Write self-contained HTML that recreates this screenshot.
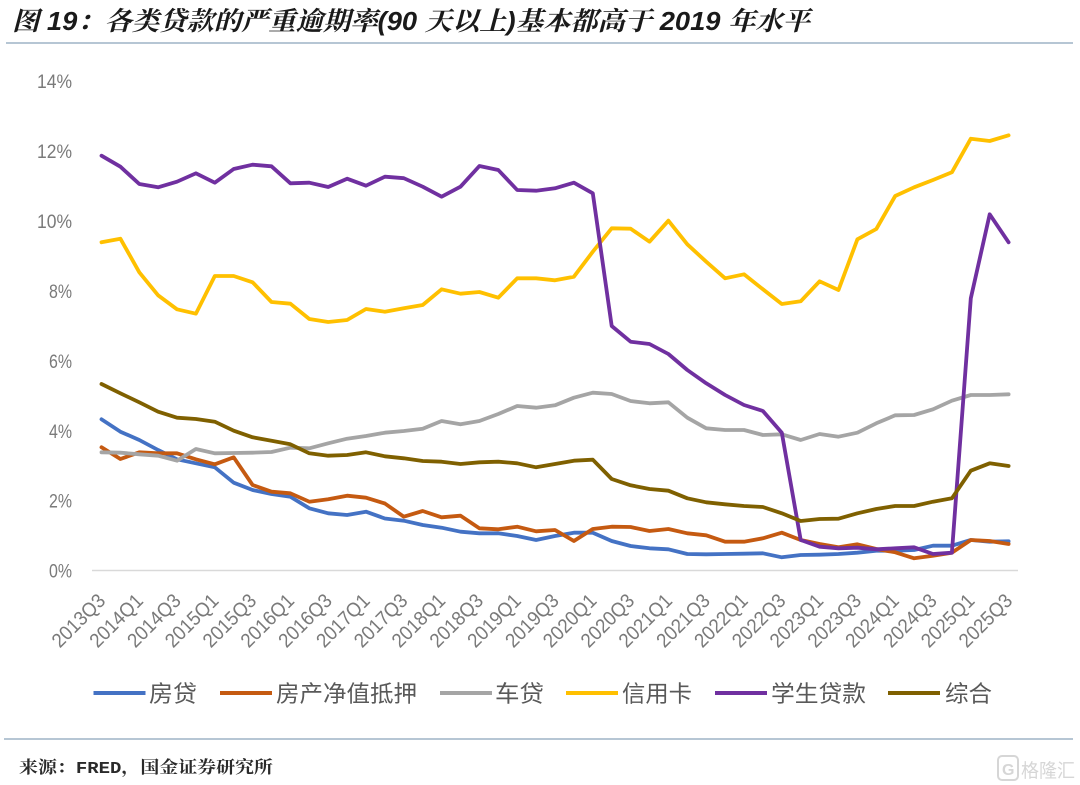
<!DOCTYPE html>
<html>
<head>
<meta charset="utf-8">
<style>
  html, body { margin:0; padding:0; background:#fff; }
  svg { display:block; }
</style>
</head>
<body>
<svg width="1080" height="785" viewBox="0 0 1080 785" xmlns="http://www.w3.org/2000/svg">
  <rect width="1080" height="785" fill="#ffffff"/>

  <!-- Title -->
  <text x="12" y="30" font-family="'Liberation Sans','Noto Serif CJK SC',serif" font-size="26" font-weight="bold" font-style="italic" fill="#1a1a1a" textLength="798" lengthAdjust="spacingAndGlyphs">图 19：各类贷款的严重逾期率(90 天以上)基本都高于 2019 年水平</text>
  <line x1="6" y1="43" x2="1073" y2="43" stroke="#9db4c6" stroke-width="1.5"/>

  <!-- Y axis labels -->
  <g font-family="'Liberation Sans',sans-serif" font-size="19" fill="#7a7a7a" text-anchor="end">
    <text x="72" y="88" textLength="35" lengthAdjust="spacingAndGlyphs">14%</text>
    <text x="72" y="158" textLength="35" lengthAdjust="spacingAndGlyphs">12%</text>
    <text x="72" y="228" textLength="35" lengthAdjust="spacingAndGlyphs">10%</text>
    <text x="72" y="298" textLength="23" lengthAdjust="spacingAndGlyphs">8%</text>
    <text x="72" y="368" textLength="23" lengthAdjust="spacingAndGlyphs">6%</text>
    <text x="72" y="438" textLength="23" lengthAdjust="spacingAndGlyphs">4%</text>
    <text x="72" y="507.5" textLength="23" lengthAdjust="spacingAndGlyphs">2%</text>
    <text x="72" y="577.5" textLength="23" lengthAdjust="spacingAndGlyphs">0%</text>
  </g>

  <!-- X axis line -->
  <line x1="92" y1="570.5" x2="1018" y2="570.5" stroke="#d9d9d9" stroke-width="1.5"/>

  <!-- X axis labels -->
  <g font-family="'Liberation Sans',sans-serif" font-size="20" fill="#7a7a7a" text-anchor="end">
    <text transform="translate(106.5,602) rotate(-45)" textLength="66" lengthAdjust="spacingAndGlyphs">2013Q3</text>
    <text transform="translate(144.3,602) rotate(-45)" textLength="66" lengthAdjust="spacingAndGlyphs">2014Q1</text>
    <text transform="translate(182.0,602) rotate(-45)" textLength="66" lengthAdjust="spacingAndGlyphs">2014Q3</text>
    <text transform="translate(219.8,602) rotate(-45)" textLength="66" lengthAdjust="spacingAndGlyphs">2015Q1</text>
    <text transform="translate(257.6,602) rotate(-45)" textLength="66" lengthAdjust="spacingAndGlyphs">2015Q3</text>
    <text transform="translate(295.4,602) rotate(-45)" textLength="66" lengthAdjust="spacingAndGlyphs">2016Q1</text>
    <text transform="translate(333.2,602) rotate(-45)" textLength="66" lengthAdjust="spacingAndGlyphs">2016Q3</text>
    <text transform="translate(371.0,602) rotate(-45)" textLength="66" lengthAdjust="spacingAndGlyphs">2017Q1</text>
    <text transform="translate(408.8,602) rotate(-45)" textLength="66" lengthAdjust="spacingAndGlyphs">2017Q3</text>
    <text transform="translate(446.6,602) rotate(-45)" textLength="66" lengthAdjust="spacingAndGlyphs">2018Q1</text>
    <text transform="translate(484.4,602) rotate(-45)" textLength="66" lengthAdjust="spacingAndGlyphs">2018Q3</text>
    <text transform="translate(522.2,602) rotate(-45)" textLength="66" lengthAdjust="spacingAndGlyphs">2019Q1</text>
    <text transform="translate(560.0,602) rotate(-45)" textLength="66" lengthAdjust="spacingAndGlyphs">2019Q3</text>
    <text transform="translate(597.8,602) rotate(-45)" textLength="66" lengthAdjust="spacingAndGlyphs">2020Q1</text>
    <text transform="translate(635.6,602) rotate(-45)" textLength="66" lengthAdjust="spacingAndGlyphs">2020Q3</text>
    <text transform="translate(673.4,602) rotate(-45)" textLength="66" lengthAdjust="spacingAndGlyphs">2021Q1</text>
    <text transform="translate(711.2,602) rotate(-45)" textLength="66" lengthAdjust="spacingAndGlyphs">2021Q3</text>
    <text transform="translate(749.0,602) rotate(-45)" textLength="66" lengthAdjust="spacingAndGlyphs">2022Q1</text>
    <text transform="translate(786.8,602) rotate(-45)" textLength="66" lengthAdjust="spacingAndGlyphs">2022Q3</text>
    <text transform="translate(824.6,602) rotate(-45)" textLength="66" lengthAdjust="spacingAndGlyphs">2023Q1</text>
    <text transform="translate(862.4,602) rotate(-45)" textLength="66" lengthAdjust="spacingAndGlyphs">2023Q3</text>
    <text transform="translate(900.2,602) rotate(-45)" textLength="66" lengthAdjust="spacingAndGlyphs">2024Q1</text>
    <text transform="translate(938.0,602) rotate(-45)" textLength="66" lengthAdjust="spacingAndGlyphs">2024Q3</text>
    <text transform="translate(975.8,602) rotate(-45)" textLength="66" lengthAdjust="spacingAndGlyphs">2025Q1</text>
    <text transform="translate(1013.6,602) rotate(-45)" textLength="66" lengthAdjust="spacingAndGlyphs">2025Q3</text>
  </g>

  <!-- Series -->
  <g fill="none" stroke-width="3.8" stroke-linejoin="round" stroke-linecap="round">
    <polyline stroke="#4472C4" points="101.5,419.3 120.4,431.7 139.3,440 158.1,450 177,459.3 195.9,463.3 214.8,467.3 233.7,482.7 252.6,490 271.5,494 290.4,496.7 309.3,508.3 328.2,513.3 347.1,515 366,511.7 384.9,518.5 403.8,520.7 422.7,525 441.6,527.7 460.5,531.7 479.4,533.3 498.3,533.3 517.2,536 536.1,540 555,536 573.9,532.7 592.8,532.7 611.7,541 630.6,546 649.5,548.3 668.4,549.3 687.3,554 706.2,554.3 725.1,554 744,553.7 762.9,553.3 781.8,557.3 800.7,555 819.6,554.7 838.5,554 857.4,552.7 876.3,550.7 895.2,550.7 914.1,550 933,545.7 951.9,545.7 970.8,540 989.7,541.7 1008.6,541.3"/>
    <polyline stroke="#C55A11" points="101.5,447.3 120.4,459 139.3,452.3 158.1,453.3 177,453.3 195.9,459.3 214.8,464.3 233.7,457.3 252.6,485 271.5,491.7 290.4,493.3 309.3,501.7 328.2,499.3 347.1,495.7 366,497.7 384.9,503.5 403.8,516.7 422.7,511 441.6,517.3 460.5,515.7 479.4,528.3 498.3,529.3 517.2,526.7 536.1,531.3 555,530 573.9,541 592.8,529 611.7,526.7 630.6,527 649.5,531 668.4,529 687.3,533.3 706.2,535.3 725.1,541.7 744,541.7 762.9,538.3 781.8,532.7 800.7,540 819.6,544 838.5,547.3 857.4,544.3 876.3,549 895.2,552.3 914.1,558.3 933,555.7 951.9,552.7 970.8,540 989.7,541 1008.6,544"/>
    <polyline stroke="#A5A5A5" points="101.5,452.3 120.4,452.7 139.3,454.3 158.1,455.7 177,460.7 195.9,449 214.8,453.3 233.7,453 252.6,452.7 271.5,452 290.4,447.7 309.3,448.3 328.2,443.3 347.1,438.7 366,436 384.9,432.7 403.8,431 422.7,428.7 441.6,421 460.5,424.3 479.4,421 498.3,414 517.2,406 536.1,407.7 555,405.3 573.9,397.7 592.8,392.7 611.7,394 630.6,401 649.5,403.3 668.4,402.3 687.3,417.7 706.2,428.3 725.1,430 744,430 762.9,435 781.8,434.3 800.7,440 819.6,434 838.5,436.7 857.4,432.7 876.3,423.3 895.2,415.3 914.1,415 933,409.3 951.9,400.7 970.8,395 989.7,395 1008.6,394.3"/>
    <polyline stroke="#FFC000" points="101.5,242.3 120.4,238.7 139.3,272.3 158.1,295.3 177,309.3 195.9,313.7 214.8,276 233.7,276 252.6,282.3 271.5,302 290.4,303.7 309.3,319 328.2,322 347.1,320 366,309 384.9,311.7 403.8,308.3 422.7,305 441.6,289.3 460.5,293.7 479.4,292 498.3,297.7 517.2,278.3 536.1,278.3 555,280.3 573.9,276.7 592.8,251.7 611.7,228.3 630.6,228.7 649.5,241.7 668.4,220.7 687.3,244.3 706.2,261.7 725.1,278.3 744,274.3 762.9,289.3 781.8,304 800.7,301.3 819.6,281.3 838.5,290 857.4,239.3 876.3,229 895.2,196 914.1,187.3 933,180 951.9,172.3 970.8,138.7 989.7,141 1008.6,135.3"/>
    <polyline stroke="#7030A0" points="101.5,155.7 120.4,166.7 139.3,184 158.1,187.3 177,181.7 195.9,173.3 214.8,182.7 233.7,169 252.6,164.7 271.5,166.3 290.4,183.3 309.3,182.7 328.2,187 347.1,178.7 366,185.7 384.9,176.7 403.8,178.2 422.7,186.7 441.6,196.7 460.5,186.7 479.4,166 498.3,170 517.2,190 536.1,190.7 555,188.3 573.9,182.7 592.8,193.3 611.7,326 630.6,341.7 649.5,344 668.4,354 687.3,370 706.2,383.3 725.1,395 744,405 762.9,411 781.8,432.7 800.7,540 819.6,546.7 838.5,548.3 857.4,547.7 876.3,549.3 895.2,548.3 914.1,547.3 933,554 951.9,552.7 970.8,298.3 989.7,214.3 1008.6,242.3"/>
    <polyline stroke="#7F6000" points="101.5,384 120.4,393.3 139.3,402.3 158.1,411.7 177,417.7 195.9,419 214.8,421.7 233.7,430.7 252.6,437.3 271.5,440.7 290.4,444.3 309.3,453.3 328.2,455.7 347.1,455 366,452.3 384.9,456.3 403.8,458.3 422.7,461 441.6,461.7 460.5,464 479.4,462.3 498.3,461.7 517.2,463.3 536.1,467.3 555,464 573.9,460.7 592.8,459.7 611.7,479 630.6,485.3 649.5,489 668.4,490.7 687.3,498.3 706.2,502.3 725.1,504.3 744,506 762.9,507 781.8,513.3 800.7,521 819.6,519 838.5,518.7 857.4,513.3 876.3,509 895.2,506 914.1,506 933,501.7 951.9,498.3 970.8,470.7 989.7,463.3 1008.6,466"/>
  </g>

  <!-- Legend -->
  <g stroke-width="4" stroke-linecap="butt">
    <line x1="93.5" y1="693" x2="145.5" y2="693" stroke="#4472C4"/>
    <line x1="220" y1="693" x2="272" y2="693" stroke="#C55A11"/>
    <line x1="440" y1="693" x2="492" y2="693" stroke="#A5A5A5"/>
    <line x1="566" y1="693" x2="618" y2="693" stroke="#FFC000"/>
    <line x1="715" y1="693" x2="767" y2="693" stroke="#7030A0"/>
    <line x1="888" y1="693" x2="940" y2="693" stroke="#7F6000"/>
  </g>
  <g font-family="'Liberation Sans','Noto Sans CJK SC',sans-serif" font-size="23" fill="#595959">
    <text x="149" y="701.5" textLength="48" lengthAdjust="spacingAndGlyphs">房贷</text>
    <text x="276" y="701.5" textLength="141" lengthAdjust="spacingAndGlyphs">房产净值抵押</text>
    <text x="495" y="701.5" textLength="49" lengthAdjust="spacingAndGlyphs">车贷</text>
    <text x="622" y="701.5" textLength="70" lengthAdjust="spacingAndGlyphs">信用卡</text>
    <text x="771" y="701.5" textLength="95" lengthAdjust="spacingAndGlyphs">学生贷款</text>
    <text x="945" y="701.5" textLength="47" lengthAdjust="spacingAndGlyphs">综合</text>
  </g>

  <line x1="4" y1="739" x2="1073" y2="739" stroke="#9db4c6" stroke-width="1.5"/>

  <text x="19" y="773" font-family="'Liberation Mono','Noto Serif CJK SC',serif" font-size="17" font-weight="bold" fill="#2a2a2a" textLength="254" lengthAdjust="spacingAndGlyphs">来源：FRED，国金证券研究所</text>

  <g opacity="0.55">
    <rect x="998" y="756" width="20" height="24" rx="4" fill="none" stroke="#b5b5b5" stroke-width="2"/>
    <text x="1002" y="775" font-family="'Liberation Sans',sans-serif" font-size="16" font-weight="bold" fill="#b5b5b5">G</text>
    <text x="1021" y="777" font-family="'Liberation Sans','Noto Sans CJK SC',sans-serif" font-size="19" fill="#b5b5b5" textLength="54" lengthAdjust="spacingAndGlyphs">格隆汇</text>
  </g>
</svg>
</body>
</html>
